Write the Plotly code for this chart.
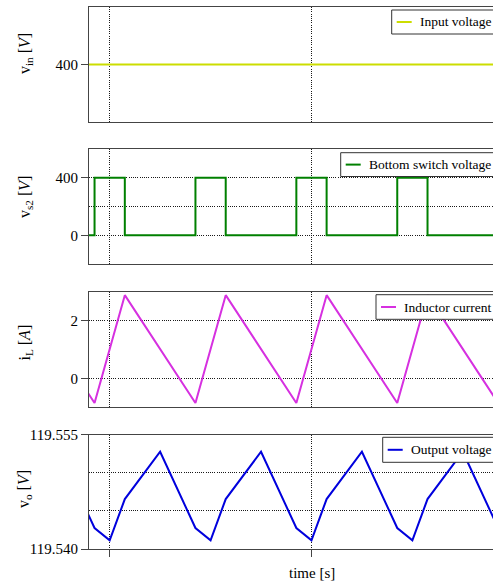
import plotly.graph_objects as go

# ---------------- data (time in microseconds) ----------------
t_vin_us = [8.5, 58.5]
v_in = [400, 400]

t_sw_us = [8.5, 11.5, 18.5, 21.5, 28.5, 31.5, 38.5, 41.5, 48.5, 51.5, 58.5]
v_s2 = [400, 0, 400, 0, 400, 0, 400, 0, 400, 0, 400]

t_il_us = [11.5, 18.5, 21.5, 28.5, 31.5, 38.5, 41.5, 48.5, 51.5, 58.5]
i_L = [2.89, -0.86, 2.89, -0.86, 2.89, -0.86, 2.89, -0.86, 2.89, -0.86]

t_vo_us = [15.0, 18.5, 20.0, 21.5, 25.0, 28.5, 30.0, 31.5, 35.0,
           38.5, 40.0, 41.5, 45.0, 48.5, 50.0, 51.5, 55.0, 58.5]
v_o = [119.55274, 119.54275, 119.54113, 119.54654, 119.55274,
       119.54275, 119.54113, 119.54654, 119.55274,
       119.54275, 119.54113, 119.54654, 119.55274,
       119.54275, 119.54113, 119.54654, 119.55274, 119.54275]

series_names = ["Input voltage", "Bottom switch voltage", "Inductor current", "Output voltage"]
y_titles = ["v<sub>in</sub> [<i>V</i>]", "v<sub>s2</sub> [<i>V</i>]",
            "i<sub>L</sub> [<i>A</i>]", "v<sub>o</sub> [<i>V</i>]"]
x_tick_us = [20, 40]

vin_ticks = [400]
vs2_ticks = [0, 400]
vs2_minor = [200]
il_ticks = [0, 2]
vo_ticks = [119.540, 119.555]
vo_ticktext = ["119.540", "119.555"]
vo_minor = [119.545, 119.550]


def sec(lst):
    return [v * 1e-6 for v in lst]


# ---------------- layout geometry (page px, body margin removed) ----------------
OFF = 0
FW, FH = 493, 588
ML, MR, MT, MB = 89, 0, 7, 39
PH = FH - MT - MB
PW = FW - ML - MR


def py(y):
    return 1 - (y - OFF - MT) / PH


def px(x):
    return (x - OFF - ML) / PW


panels = [(7, 122), (149, 264), (292, 407), (434.5, 549)]
FONT = "Liberation Serif"
AX = "#444444"
GRID = "#1a1a1a"
DASH = "1px,1.2px"

fig = go.Figure()
colors = ["#ccdd00", "#008000", "#d630e0", "#0000dd"]
data = [(t_vin_us, v_in, "linear"), (t_sw_us, v_s2, "hv"),
        (t_il_us, i_L, "linear"), (t_vo_us, v_o, "linear")]
for k, ((tx, ty, shape), name, col) in enumerate(zip(data, series_names, colors)):
    sfx = "" if k == 0 else str(k + 1)
    fig.add_trace(go.Scatter(x=sec(tx), y=ty, mode="lines", name=name,
                             line=dict(color=col, width=2, shape=shape),
                             xaxis="x" + sfx, yaxis="y" + sfx, showlegend=False))

xrange_ = [17.95e-6, 57.99e-6]
layout = dict(width=FW, height=FH, margin=dict(l=ML, r=MR, t=MT, b=MB, autoexpand=False),
              paper_bgcolor="white", plot_bgcolor="white",
              font=dict(family=FONT, size=15, color="black"))

ytick_cfg = [
    dict(range=[200, 600], tickvals=vin_ticks),
    dict(range=[-200, 600], tickvals=vs2_ticks,
         minor=dict(tickvals=vs2_minor, showgrid=True, gridcolor=GRID, griddash=DASH, gridwidth=1, ticks="")),
    dict(range=[-1, 3], tickvals=il_ticks),
    dict(range=[119.540, 119.555], tickvals=vo_ticks, ticktext=vo_ticktext,
         minor=dict(tickvals=vo_minor, showgrid=True, gridcolor=GRID, griddash=DASH, gridwidth=1, ticks="")),
]

for k, (top, bot) in enumerate(panels):
    sfx = "" if k == 0 else str(k + 1)
    xa = dict(range=xrange_, domain=[0, 1], anchor="y" + sfx,
              showline=True, mirror=True, linecolor=AX, linewidth=1,
              showgrid=True, gridcolor=GRID, griddash=DASH, gridwidth=1,
              tickvals=sec(x_tick_us), showticklabels=False, zeroline=False,
              ticks="outside" if k == 3 else "", ticklen=7, tickcolor=AX)
    if k > 0:
        xa["matches"] = "x"
    ya = dict(domain=[py(bot), py(top)], anchor="x" + sfx,
              showline=True, mirror=False, linecolor=AX, linewidth=1,
              ticks="outside", ticklen=7, tickcolor=AX,
              showgrid=True, gridcolor=GRID, griddash=DASH, gridwidth=1,
              zeroline=False, tickfont=dict(family=FONT, size=15, color="black"))
    ya.update(ytick_cfg[k])
    layout["xaxis" + sfx] = xa
    layout["yaxis" + sfx] = ya

fig.update_layout(**layout)

# ---------------- per-panel legend boxes ----------------
leg_box = [(391.7, 10, 34), (340.7, 152.7, 176.5), (376, 294.7, 319.3), (382.7, 437.3, 462.3)]
for (lx, lt, lb), name, col in zip(leg_box, series_names, colors):
    yc = (lt + lb) / 2
    fig.add_shape(type="rect", xref="paper", yref="paper",
                  x0=px(lx), x1=px(505), y0=py(lb), y1=py(lt),
                  fillcolor="white", line=dict(color="#333333", width=1), layer="above")
    fig.add_shape(type="line", xref="paper", yref="paper",
                  x0=px(lx + 5), x1=px(lx + 20), y0=py(yc), y1=py(yc),
                  line=dict(color=col, width=2), layer="above")
    fig.add_annotation(text=name, xref="paper", yref="paper", x=px(lx + 26), y=py(yc),
                       xanchor="left", yanchor="middle", showarrow=False,
                       font=dict(family=FONT, size=13.5, color="black"))

title_centers = [54, 197, 342.5, 489]
for txt, yc in zip(y_titles, title_centers):
    fig.add_annotation(text=txt, xref="paper", yref="paper", x=0, y=py(yc),
                       xshift=25 - 89, xanchor="center", yanchor="middle",
                       textangle=-90, showarrow=False,
                       font=dict(family=FONT, size=16, color="black"))

fig.add_annotation(text="time [s]", xref="paper", yref="paper", x=px(311.7), y=py(572.7),
                   xanchor="center", yanchor="middle", showarrow=False,
                   font=dict(family=FONT, size=15, color="black"))

fig.write_html("out.html",
               config={"displayModeBar": False, "staticPlot": True},
               post_script="document.body.style.margin='0';document.body.style.overflow='hidden';")
